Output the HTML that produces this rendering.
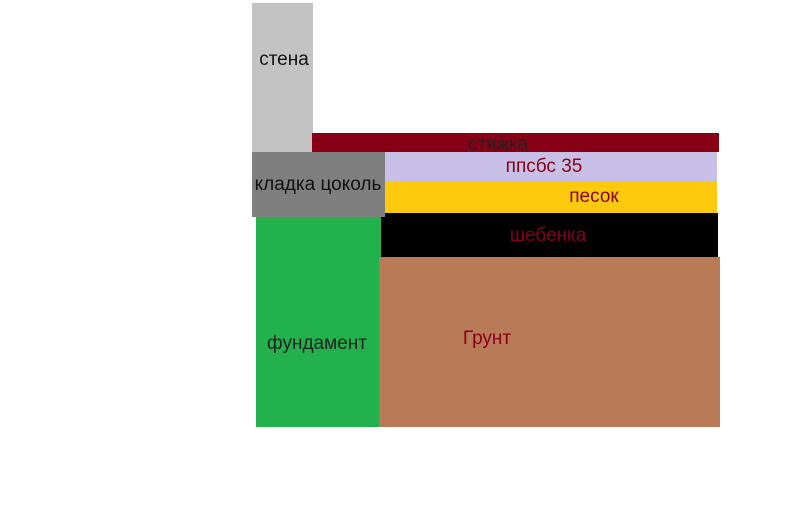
<!DOCTYPE html>
<html><head><meta charset="utf-8"><style>
body{margin:0;width:790px;height:523px;background:#fff;position:relative;overflow:hidden;font-family:"Liberation Sans",sans-serif;font-size:19px}
div{position:absolute}
span{position:absolute;white-space:nowrap;transform:translate(-50%,-50%)}
</style></head><body>
<div style="left:252px;top:3px;width:61px;height:150px;background:#c3c3c3"></div>
<div style="left:312px;top:133px;width:407px;height:19px;background:#880015"></div>
<div style="left:385px;top:152px;width:332px;height:29px;background:#c8bfe7"></div>
<div style="left:385px;top:181px;width:332px;height:33px;background:#ffc90e"></div>
<div style="left:381px;top:213px;width:337px;height:44px;background:#000"></div>
<div style="left:256px;top:217px;width:125px;height:210px;background:#22b14c"></div>
<div style="left:379px;top:257px;width:341px;height:170px;background:#b97a57"></div>
<div style="left:252px;top:152px;width:133px;height:65px;background:#7f7f7f"></div>
<span style="left:284px;top:60px;color:#111">стена</span>
<span style="left:498px;top:145px;color:#222">стяжка</span>
<span style="left:544px;top:167px;color:#880015">ппсбс 35</span>
<span style="left:594px;top:197px;color:#880015">песок</span>
<span style="left:318px;top:185px;color:#111">кладка цоколь</span>
<span style="left:548px;top:236px;color:#880015">шебенка</span>
<span style="left:317px;top:344px;color:#222">фундамент</span>
<span style="left:487px;top:339px;color:#880015">Грунт</span>
</body></html>
